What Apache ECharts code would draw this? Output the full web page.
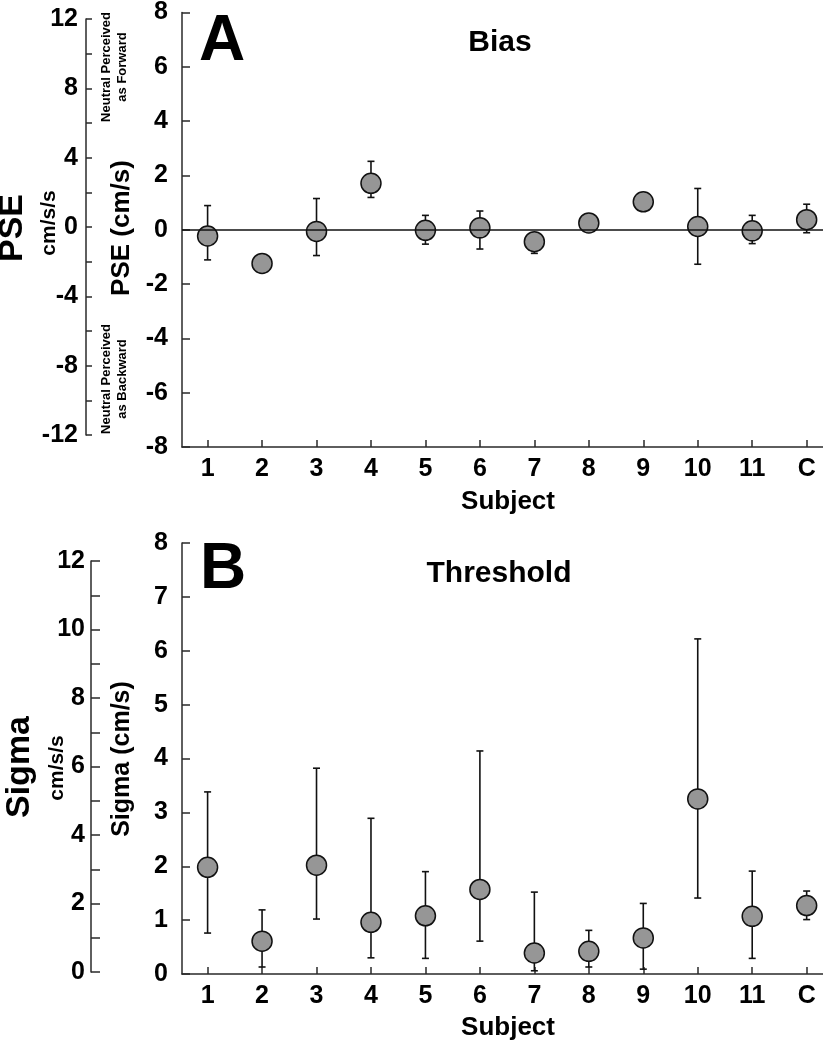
<!DOCTYPE html>
<html>
<head>
<meta charset="utf-8">
<script src="https://cdn.jsdelivr.net/npm/echarts@6/dist/echarts.min.js"></script>
<style>
html,body{margin:0;padding:0;background:#fff;}
#chart{width:823px;height:1050px;}
</style>
</head>
<body>
<div id="chart"></div>
<script>
// ---- data ----
const subjects = ['1','2','3','4','5','6','7','8','9','10','11','C'];
const subjectPos = [1,2,3,4,5,6,7,8,9,10,11,12];

// Panel A: PSE (cm/s)
const pse     = [-0.23, -1.24, -0.06, 1.71, -0.02, 0.07, -0.44, 0.25, 1.03, 0.12, -0.04, 0.37];
const pseLow  = [-1.11, -1.24, -0.95, 1.19, -0.53, -0.71, -0.87, 0.25, 0.70, -1.27, -0.51, -0.11];
const pseHigh = [ 0.89, -1.24,  1.15, 2.52,  0.53,  0.69, -0.20, 0.25, 1.20,  1.52,  0.53,  0.94];

// Panel B: Sigma (cm/s)
const sigma     = [1.98, 0.61, 2.02, 0.96, 1.08, 1.57, 0.39, 0.42, 0.67, 3.25, 1.07, 1.27];
const sigmaLow  = [0.76, 0.13, 1.02, 0.30, 0.29, 0.61, 0.06, 0.13, 0.09, 1.41, 0.29, 1.01];
const sigmaHigh = [3.38, 1.19, 3.82, 2.89, 1.90, 4.14, 1.52, 0.81, 1.31, 6.22, 1.91, 1.54];

// ---- styles ----
const FONT = 'Liberation Sans, Arial, sans-serif';
const AX = '#2a2a2a';
const DOT = '#969696';

function pts(vals){ return vals.map((v,i)=>[subjectPos[i], v]); }
function bars(lo,hi){ return lo.map((l,i)=>[subjectPos[i], l, hi[i]]); }

function errRender(params, api){
  const x = api.value(0), lo = api.value(1), hi = api.value(2);
  if (lo === hi) return null;
  const p1 = api.coord([x, lo]);
  const p2 = api.coord([x, hi]);
  const w = 3.5;
  const st = {stroke:'#111', lineWidth:1.6};
  return {type:'group', children:[
    {type:'line', shape:{x1:p1[0],y1:p1[1],x2:p2[0],y2:p2[1]}, style:st},
    {type:'line', shape:{x1:p1[0]-w,y1:p1[1],x2:p1[0]+w,y2:p1[1]}, style:st},
    {type:'line', shape:{x1:p2[0]-w,y1:p2[1],x2:p2[0]+w,y2:p2[1]}, style:st}
  ]};
}

const labelStyle = {color:'#000', fontFamily:FONT, fontWeight:'bold', fontSize:25};

function xAxisMain(gridIndex){
  return {
    type:'value', gridIndex, min:0.53, max:12.3,
    axisLine:{show:true, onZero:false, lineStyle:{color:AX, width:1.5}},
    axisTick:{show:true, inside:true, length:7, customValues:subjectPos, lineStyle:{color:AX, width:1.5}},
    axisLabel:Object.assign({customValues:subjectPos, margin:10, formatter:v=>subjects[Math.round(v)-1]}, labelStyle),
    splitLine:{show:false}
  };
}
function xAxisHidden(gridIndex){
  return {type:'value', gridIndex, min:0, max:1, show:false};
}
function yAxisCfg(gridIndex, min, max, interval, labelEvery, margin, tickLen){
  return {
    type:'value', gridIndex, min, max, interval,
    axisLine:{show:true, onZero:false, lineStyle:{color:AX, width:1.5}},
    axisTick:{show:true, inside:true, length:tickLen, lineStyle:{color:AX, width:1.5}},
    axisLabel:Object.assign({margin, formatter:v=> (Math.round(v) % labelEvery === 0 ? String(v) : '')}, labelStyle),
    splitLine:{show:false}
  };
}

function txt(text, x, y, size, rot, extra){
  return {
    type:'text', x, y, rotation: rot ? Math.PI/2 : 0,
    style:Object.assign({text, fill:'#000', font:'bold '+size+'px '+FONT, textAlign:'center', textVerticalAlign:'middle'}, extra||{})
  };
}

const option = {
  animation:false,
  backgroundColor:'#fff',
  grid:[
    {left:182, top:11, width:641, height:436},   // A main
    {left:182, top:543, width:641, height:431},  // B main
    {left:86, top:19, width:10, height:416},     // A left cm/s/s
    {left:91, top:561, width:10, height:411}     // B left cm/s/s
  ],
  xAxis:[ xAxisMain(0), xAxisMain(1), xAxisHidden(2), xAxisHidden(3) ],
  yAxis:[
    yAxisCfg(0, -8, 8, 2, 1, 14, 8),
    yAxisCfg(1, 0, 8, 1, 1, 14, 8),
    yAxisCfg(2, -12, 12, 2, 4, 8, 6),
    yAxisCfg(3, 0, 12, 1, 2, 6, 9)
  ],
  series:[
    {type:'custom', xAxisIndex:0, yAxisIndex:0, renderItem:errRender, data:bars(pseLow,pseHigh), z:2,
     markLine:{silent:true, symbol:'none', label:{show:false}, lineStyle:{color:'#111', width:1.6, type:'solid'}, data:[{yAxis:0}]}},
    {type:'scatter', xAxisIndex:0, yAxisIndex:0, data:pts(pse), symbol:'circle', symbolSize:20, z:3,
     itemStyle:{color:DOT, borderColor:'#111', borderWidth:1.5, opacity:1}},
    {type:'custom', xAxisIndex:1, yAxisIndex:1, renderItem:errRender, data:bars(sigmaLow,sigmaHigh), z:2},
    {type:'scatter', xAxisIndex:1, yAxisIndex:1, data:pts(sigma), symbol:'circle', symbolSize:20, z:3,
     itemStyle:{color:DOT, borderColor:'#111', borderWidth:1.5, opacity:1}}
  ],
  graphic:[
    txt('A', 222, 42, 64),
    txt('Bias', 500, 43, 30),
    txt('B', 223, 570, 64),
    txt('Threshold', 499, 574, 30),
    txt('PSE', 13, 228, 34, true),
    txt('cm/s/s', 49, 223, 21, true),
    txt('PSE (cm/s)', 122, 228, 26, true),
    txt('Neutral Perceived\nas Forward', 114, 67, 13, true, {lineHeight:16}),
    txt('Neutral Perceived\nas Backward', 114, 379, 13, true, {lineHeight:16}),
    txt('Sigma', 20, 767, 34, true),
    txt('cm/s/s', 57, 768, 21, true),
    txt('Sigma (cm/s)', 122, 759, 25, true),
    txt('Subject', 508, 502, 26),
    txt('Subject', 508, 1028, 26)
  ]
};

const chart = echarts.init(document.getElementById('chart'), null, {renderer:'canvas'});
chart.setOption(option);
</script>
</body>
</html>
